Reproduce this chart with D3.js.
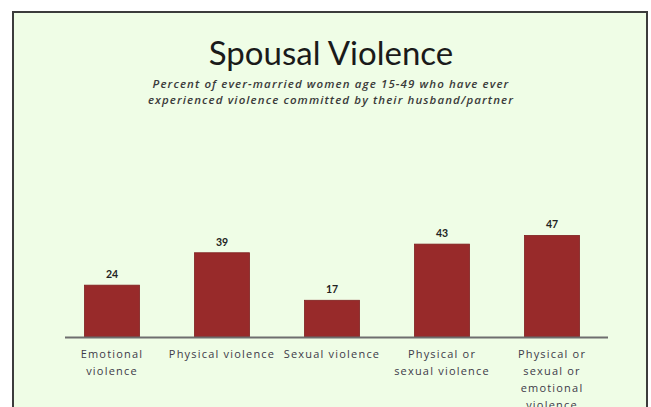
<!DOCTYPE html>
<html>
<head>
<meta charset="utf-8">
<script src="https://cdn.jsdelivr.net/npm/d3@7"></script>
<style>
  html, body { margin: 0; padding: 0; background: #ffffff; }
  svg { display: block; }
</style>
</head>
<body>
<svg id="chart" width="651" height="407"></svg>
<script>
// Spousal violence indicators (percent)
const categories = [
  "Emotional violence",
  "Physical violence",
  "Sexual violence",
  "Physical or sexual violence",
  "Physical or sexual or emotional violence"
];
const labelLines = [
  ["Emotional", "violence"],
  ["Physical violence"],
  ["Sexual violence"],
  ["Physical or", "sexual violence"],
  ["Physical or", "sexual or", "emotional", "violence"]
];
const values = [24, 39, 17, 43, 47];

const titleText = "Spousal Violence";
const subtitleLines = [
  "Percent of ever-married women age 15-49 who have ever",
  "experienced violence committed by their husband/partner"
];

const svg = d3.select("#chart");
const W = 651, H = 407;

// panel background + frame
svg.append("rect")
  .attr("x", 13).attr("y", 12)
  .attr("width", 634).attr("height", H)
  .attr("fill", "#effde6")
  .attr("stroke", "#3c3c3c")
  .attr("stroke-width", 2);

const cx = 331;

svg.append("text")
  .attr("x", cx).attr("y", 65)
  .attr("text-anchor", "middle")
  .attr("font-family", "Lato, 'Open Sans', sans-serif")
  .attr("font-size", 33)
  .attr("fill", "#1a1a1a")
  .text(titleText);

svg.append("g").selectAll("text")
  .data(subtitleLines)
  .join("text")
  .attr("x", cx)
  .attr("y", (d, i) => 88 + i * 16)
  .attr("text-anchor", "middle")
  .attr("font-family", "'Open Sans', sans-serif")
  .attr("font-style", "italic")
  .attr("font-weight", 600)
  .attr("font-size", 11.5)
  .attr("letter-spacing", 1.1)
  .attr("fill", "#3a3a3a")
  .text(d => d);

const x = d3.scaleBand()
  .domain(categories)
  .range([57, 607])
  .paddingInner(0.5)
  .paddingOuter(0.25);

const y = d3.scaleLinear()
  .domain([0, 50])
  .range([337, 229]);

const bars = svg.append("g");
bars.selectAll("rect")
  .data(values)
  .join("rect")
  .attr("x", (d, i) => x(categories[i]))
  .attr("y", d => y(d))
  .attr("width", x.bandwidth())
  .attr("height", d => y(0) - y(d))
  .attr("fill", "#982a2a")
  .attr("stroke", "#7e1f1f")
  .attr("stroke-width", 0.8);

// value labels
svg.append("g").selectAll("text")
  .data(values)
  .join("text")
  .attr("x", (d, i) => x(categories[i]) + x.bandwidth() / 2)
  .attr("y", d => y(d) - 7)
  .attr("text-anchor", "middle")
  .attr("font-family", "Lato, 'Open Sans', sans-serif")
  .attr("font-weight", "bold")
  .attr("font-size", 10.5)
  .attr("fill", "#222222")
  .text(d => d);

// baseline axis
const axis = svg.append("g")
  .attr("transform", `translate(0,${y(0)})`)
  .call(d3.axisBottom(x).tickSize(0).tickFormat(""));
axis.select(".domain")
  .attr("stroke", "#6e6e6e")
  .attr("stroke-width", 2)
  .attr("d", "M65,0.5H608");

// category labels (multi-line)
const cat = svg.append("g").selectAll("text")
  .data(categories)
  .join("text")
  .attr("text-anchor", "middle")
  .attr("font-family", "'Open Sans', sans-serif")
  .attr("font-size", 11)
  .attr("letter-spacing", 1.2)
  .attr("fill", "#3d3a48");
cat.each(function(d, i) {
  const t = d3.select(this);
  labelLines[i].forEach((line, j) => {
    t.append("tspan")
      .attr("x", x(d) + x.bandwidth() / 2)
      .attr("y", 358 + j * 17)
      .text(line);
  });
});
</script>
</body>
</html>
